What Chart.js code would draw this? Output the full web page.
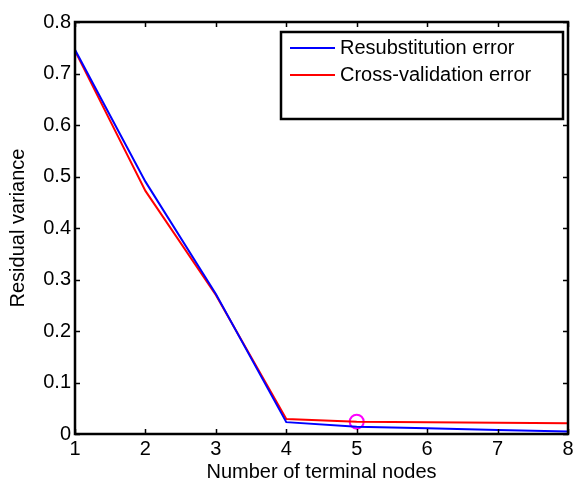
<!DOCTYPE html>
<html>
<head>
<meta charset="utf-8">
<script src="https://cdn.jsdelivr.net/npm/chart.js@4"></script>
<style>
  html, body { margin: 0; padding: 0; background: #fff; }
  #wrap { width: 577px; height: 484px; }
</style>
</head>
<body>
<div id="wrap"><canvas id="chart" width="577" height="484"></canvas></div>
<script>
const nodes = [1, 2, 3, 4, 5, 6, 7, 8];
const resubError = [0.746, 0.49, 0.272, 0.023, 0.014, 0.011, 0.008, 0.005];
const crossValError = [0.744, 0.472, 0.270, 0.029, 0.024, 0.023, 0.022, 0.021];
const bestNode = 5;
const seriesLabels = ["Resubstitution error", "Cross-validation error"];
const yTicks = [0, 0.1, 0.2, 0.3, 0.4, 0.5, 0.6, 0.7, 0.8];

const FONT = "'Liberation Sans', Arial, sans-serif";

// MATLAB-like box with inward ticks on all four sides
const boxPlugin = {
  id: "box",
  afterDraw(chart) {
    const { ctx, chartArea: a, scales } = chart;
    ctx.save();
    ctx.strokeStyle = "#000";
    ctx.lineWidth = 1.5;
    const tl = 5;
    ctx.beginPath();
    nodes.forEach(v => {
      const px = Math.round(scales.x.getPixelForValue(v)) + 0.5;
      ctx.moveTo(px, a.bottom); ctx.lineTo(px, a.bottom - tl);
      ctx.moveTo(px, a.top); ctx.lineTo(px, a.top + tl);
    });
    yTicks.forEach(v => {
      const py = Math.round(scales.y.getPixelForValue(v)) + 0.5;
      ctx.moveTo(a.left, py); ctx.lineTo(a.left + tl, py);
      ctx.moveTo(a.right, py); ctx.lineTo(a.right - tl, py);
    });
    ctx.stroke();
    ctx.lineWidth = 2.5;
    ctx.strokeRect(a.left, a.top, a.right - a.left, a.bottom - a.top);

    // legend box
    const lx = 281, ly = 32, lw = 282, lh = 87;
    ctx.fillStyle = "#fff";
    ctx.fillRect(lx, ly, lw, lh);
    ctx.lineWidth = 2.5;
    ctx.strokeRect(lx, ly, lw, lh);
    ctx.font = "20px " + FONT;
    ctx.textBaseline = "middle";
    const items = [
      { label: seriesLabels[0], color: "#0000ff", y: 48 },
      { label: seriesLabels[1], color: "#ff0000", y: 75 }
    ];
    items.forEach(it => {
      ctx.strokeStyle = it.color;
      ctx.lineWidth = 2;
      ctx.beginPath();
      ctx.moveTo(290, it.y); ctx.lineTo(335, it.y);
      ctx.stroke();
      ctx.fillStyle = "#000";
      ctx.fillText(it.label, 340, it.y);
    });
    ctx.restore();
  }
};

new Chart(document.getElementById("chart"), {
  type: "line",
  data: {
    datasets: [
      {
        label: seriesLabels[0],
        data: nodes.map((n, i) => ({ x: n, y: resubError[i] })),
        borderColor: "#0000ff",
        borderWidth: 2,
        pointRadius: 0,
        tension: 0
      },
      {
        label: seriesLabels[1],
        data: nodes.map((n, i) => ({ x: n, y: crossValError[i] })),
        borderColor: "#ff0000",
        borderWidth: 2,
        pointRadius: 0,
        tension: 0
      },
      {
        label: "best",
        data: [{ x: bestNode, y: crossValError[nodes.indexOf(bestNode)] }],
        showLine: false,
        pointStyle: "circle",
        pointRadius: 7,
        pointBorderWidth: 2,
        pointBorderColor: "#ff00ff",
        pointBackgroundColor: "rgba(0,0,0,0)"
      }
    ]
  },
  options: {
    responsive: false,
    animation: false,
    layout: { padding: { top: 22, right: 6, left: 0, bottom: 0 } },
    plugins: {
      legend: { display: false },
      tooltip: { enabled: false }
    },
    scales: {
      x: {
        type: "linear",
        min: 1,
        max: 8,
        grid: { display: false, drawTicks: false },
        border: { display: false },
        afterFit(scale) { scale.height = 50; },
        afterBuildTicks(scale) { scale.ticks = nodes.map(v => ({ value: v })); },
        ticks: {
          color: "#000",
          padding: 3,
          font: { family: FONT, size: 20 },
          maxRotation: 0
        },
        title: {
          display: true,
          text: "Number of terminal nodes",
          color: "#000",
          font: { family: FONT, size: 20 },
          padding: { top: 0, bottom: 0 }
        }
      },
      y: {
        min: 0,
        max: 0.8,
        grid: { display: false, drawTicks: false },
        border: { display: false },
        afterFit(scale) { scale.width = 75; },
        afterBuildTicks(scale) { scale.ticks = yTicks.map(v => ({ value: v })); },
        ticks: {
          color: "#000",
          padding: 4,
          font: { family: FONT, size: 20 },
          callback: v => (v === 0 ? "0" : v.toFixed(1))
        },
        title: {
          display: true,
          text: "Residual variance",
          color: "#000",
          font: { family: FONT, size: 20 },
          padding: { top: 6, bottom: 0 }
        }
      }
    }
  },
  plugins: [boxPlugin]
});
</script>
</body>
</html>
